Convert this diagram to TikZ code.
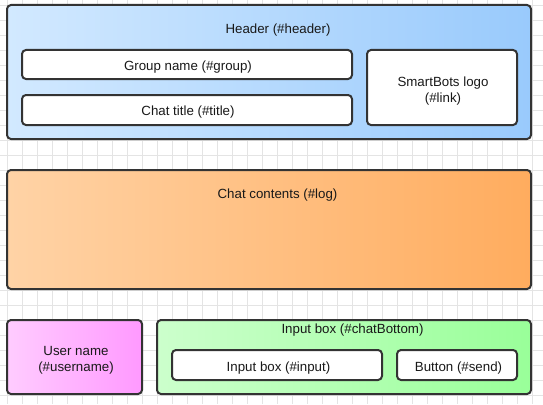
\documentclass[tikz,border=0pt]{standalone}
\usepackage{fontspec}
\setmainfont{Liberation Sans}
\definecolor{bordc}{HTML}{333333}
\definecolor{gridc}{HTML}{E4E4E4}
\definecolor{blueL}{HTML}{D2E9FF}
\definecolor{blueR}{HTML}{99CAFC}
\definecolor{orangeL}{HTML}{FFD3A6}
\definecolor{orangeR}{HTML}{FFAC5E}
\definecolor{pinkL}{HTML}{FFCCFF}
\definecolor{pinkR}{HTML}{FF99FF}
\definecolor{greenL}{HTML}{CCFFCC}
\definecolor{greenR}{HTML}{99FF99}
\tikzset{
  box/.style={draw=bordc, line width=2pt, rounded corners=4pt, anchor=north west, inner sep=0pt, outer sep=0pt},
  whitebox/.style={box, fill=white},
  lbl/.style={inner sep=0pt, align=center, text=black!90, font=\fontsize{13.3}{16.4}\selectfont}
}
\begin{document}
\begin{tikzpicture}[x=1pt,y=-1pt]
\useasboundingbox (0,0) rectangle (543,404);
\fill[white] (0,0) rectangle (543,404);
% grid
\foreach \gx in {7.5,22.5,...,543} \draw[gridc, line width=0.6pt] (\gx,0) -- (\gx,404);
\foreach \gy in {5.5,20.5,...,404} \draw[gridc, line width=0.6pt] (0,\gy) -- (543,\gy);
% header
\node[box, left color=blueL, right color=blueR, minimum width=524pt, minimum height=134pt] (header) at (7,5) {};
\node[lbl] (headerlbl) at (278,30.3) {Header (\#header)};
\node[whitebox, minimum width=330pt, minimum height=29pt] (group) at (22,50) {};
\node[lbl] (grouplbl) at (188,67.5) {Group name (\#group)};
\node[whitebox, minimum width=330pt, minimum height=30pt] (title) at (22,95) {};
\node[lbl] (titlelbl) at (188,112.5) {Chat title (\#title)};
\node[whitebox, minimum width=150pt, minimum height=75pt] (link) at (367,50) {};
\node[lbl] (linklbl) at (443,91) {SmartBots logo\\(\#link)};
% chat contents
\node[box, left color=orangeL, right color=orangeR, minimum width=524pt, minimum height=119pt] (log) at (7,170) {};
\node[lbl] (loglbl) at (277.5,195.3) {Chat contents (\#log)};
% bottom
\node[box, left color=pinkL, right color=pinkR, minimum width=135pt, minimum height=74pt] (username) at (7,320) {};
\node[lbl] (usernamelbl) at (76,360.5) {User name\\(\#username)};
\node[box, left color=greenL, right color=greenR, minimum width=374pt, minimum height=74pt] (chatBottom) at (157,320) {};
\node[lbl] (chatBottomlbl) at (352.5,330.3) {Input box (\#chatBottom)};
\node[whitebox, minimum width=210pt, minimum height=30pt] (input) at (172,350) {};
\node[lbl] (inputlbl) at (278.5,367.8) {Input box (\#input)};
\node[whitebox, minimum width=120pt, minimum height=30pt] (send) at (397,350) {};
\node[lbl] (sendlbl) at (458.5,368.2) {Button (\#send)};
\end{tikzpicture}
\end{document}
